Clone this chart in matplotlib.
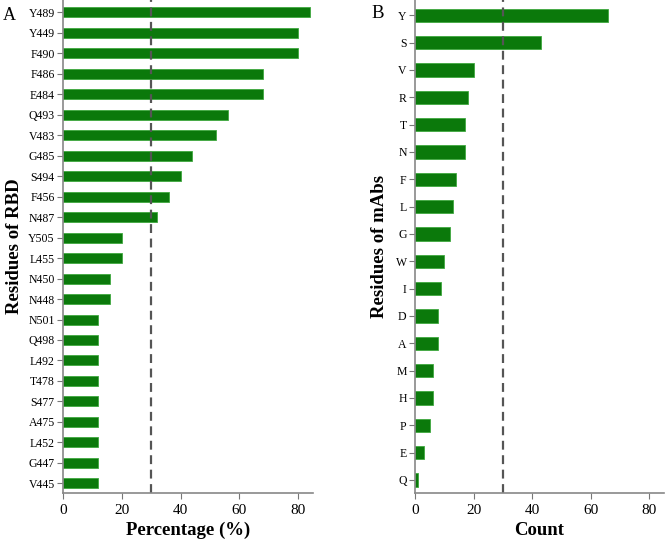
import matplotlib
matplotlib.use('Agg')
import matplotlib.pyplot as plt

rbd_res = ['Y489', 'Y449', 'F490', 'F486', 'E484', 'Q493', 'V483', 'G485', 'S494', 'F456',
           'N487', 'Y505', 'L455', 'N450', 'N448', 'N501', 'Q498', 'L492', 'T478', 'S477',
           'A475', 'L452', 'G447', 'V445']
rbd_pct = [84, 80, 80, 68, 68, 56, 52, 44, 40, 36, 32, 20, 20, 16, 16, 12, 12, 12, 12, 12,
           12, 12, 12, 12]

mab_res = ['Y', 'S', 'V', 'R', 'T', 'N', 'F', 'L', 'G', 'W', 'I', 'D', 'A', 'M', 'H', 'P', 'E', 'Q']
mab_cnt = [66, 43, 20, 18, 17, 17, 14, 13, 12, 10, 9, 8, 8, 6, 6, 5, 3, 1]

threshold = 30

plt.rcParams['font.family'] = ['Liberation Serif', 'DejaVu Serif']

fig = plt.figure(figsize=(6.66, 5.43), dpi=100)
W, H = 666, 543
axA = fig.add_axes([63 / W, 1 - 493 / H, 250 / W, 493 / H])
axB = fig.add_axes([415 / W, 1 - 493 / H, 249 / W, 493 / H])

green = '#0b790b'
edge = '#3fa83f'


def draw(ax, labels, vals, height, ylo, yhi, xlabel, ylabel, ylab_x):
    n = len(labels)
    ys = list(range(n))
    ax.barh(ys, vals, height=height, color=green, edgecolor=edge, linewidth=0.6)
    ax.axvline(threshold, color='#555555', linestyle=(0, (4, 2.5)), linewidth=1.6)
    ax.set_yticks(ys)
    ax.set_yticklabels(labels, fontsize=8.5)
    ax.set_ylim(n - 1 + ylo, -yhi)
    ax.set_xlim(0, 85)
    ax.set_xticks([0, 20, 40, 60, 80])
    ax.tick_params(axis='x', labelsize=11, color='#777777', length=4, pad=4)
    ax.tick_params(axis='y', color='#777777', length=4.5, pad=1.5)
    for s in ['top', 'right']:
        ax.spines[s].set_visible(False)
    for s in ['left', 'bottom']:
        ax.spines[s].set_color('#888888')
        ax.spines[s].set_linewidth(1.2)
    ax.set_xlabel(xlabel, fontsize=13.5, fontweight='bold')
    ax.set_ylabel(ylabel, fontsize=13.5, fontweight='bold')
    ax.xaxis.set_label_coords(0.5, -0.058)
    ax.yaxis.set_label_coords(ylab_x, 0.5)


draw(axA, rbd_res, rbd_pct, 0.49, 0.47, 0.6, 'Percentage (%)', 'Residues of RBD', -0.16)
draw(axB, mab_res, mab_cnt, 0.49, 0.48, 0.56, 'Count', 'Residues of mAbs', -0.108)

fig.text(9 / W, 1 - 15 / H, 'A', fontsize=13, va='center', ha='center')
fig.text(378 / W, 1 - 13 / H, 'B', fontsize=13.5, va='center', ha='center')

fig.savefig('out.png', dpi=100)
